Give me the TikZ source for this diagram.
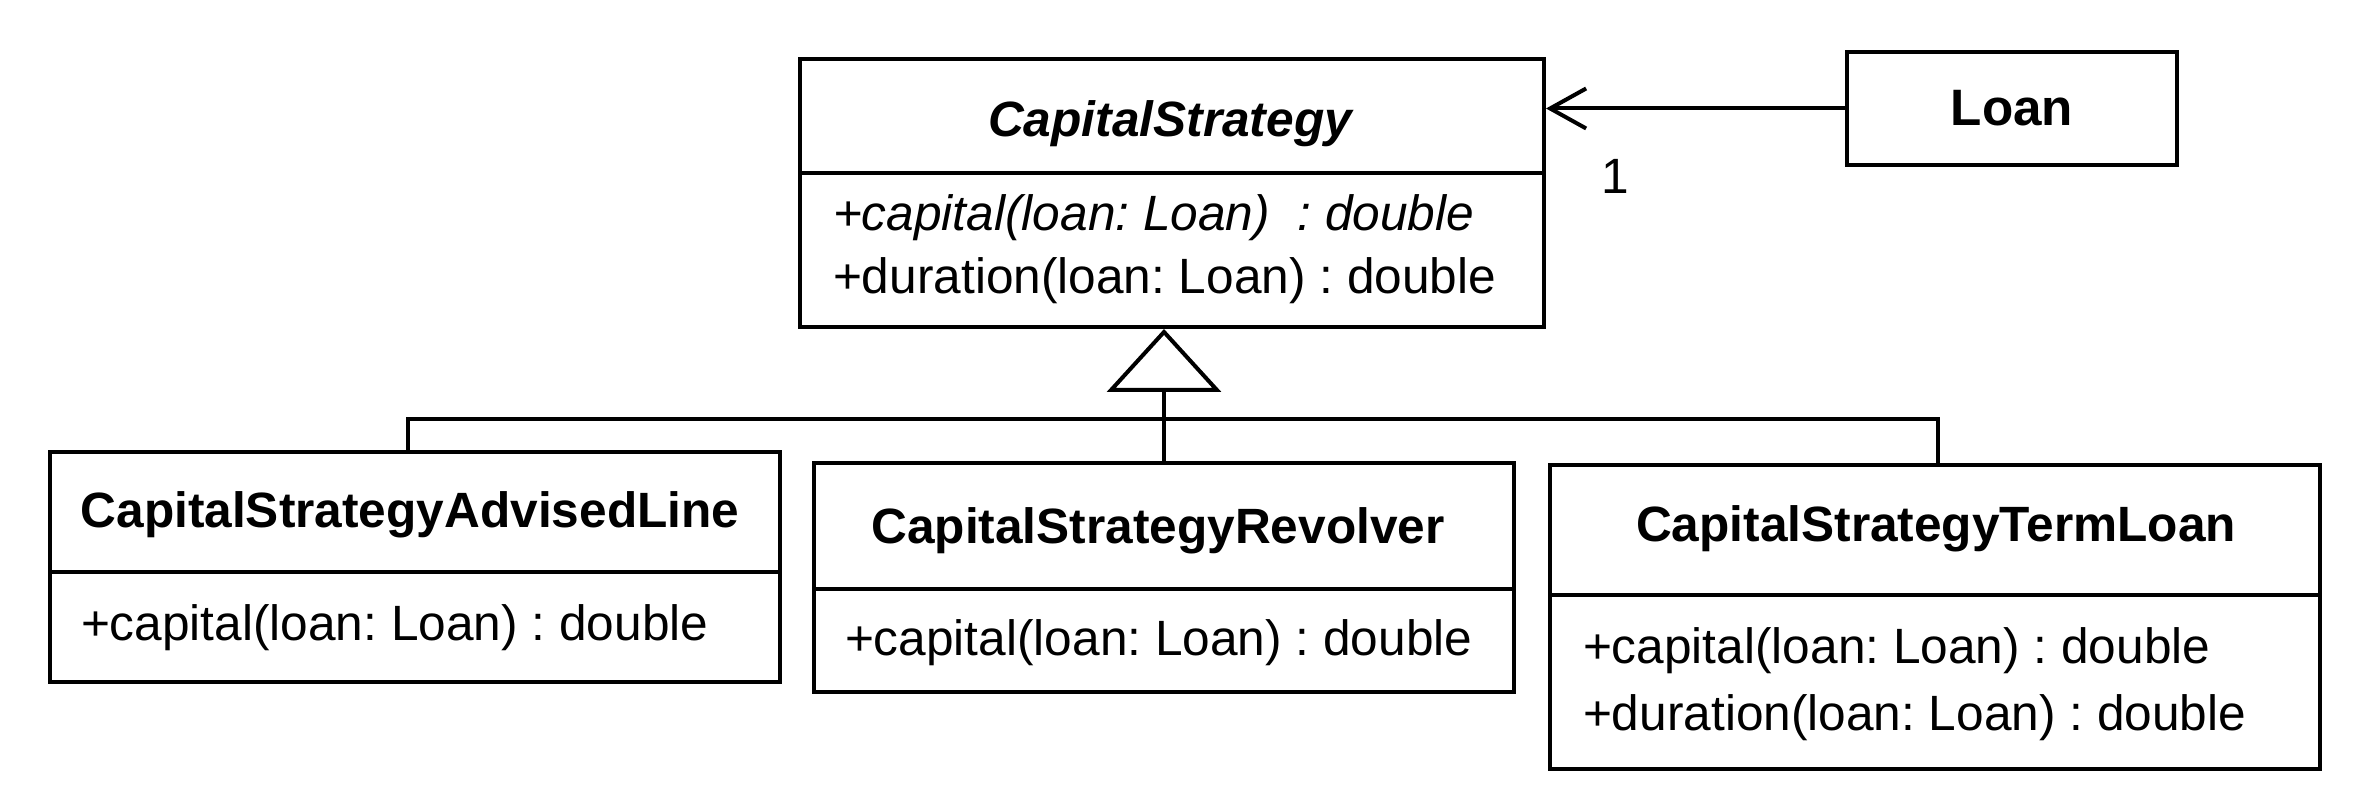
\documentclass[tikz,border=0pt]{standalone}
\usepackage{fontspec}
\setmainfont{Liberation Sans}
\usetikzlibrary{arrows.meta}
\frenchspacing
\begin{document}
\frenchspacing
\begin{tikzpicture}[x=0.25pt,y=-0.25pt,
  line width=1pt,
  classbox/.style={draw, line width=1pt, anchor=north west, inner sep=0pt},
  ctitle/.style={font=\fontsize{12.4}{15}\selectfont\bfseries, inner sep=0pt},
  cop/.style={font=\fontsize{12.4}{15}\selectfont, anchor=west, inner sep=0pt},
  conn/.style={line width=1pt}]
\fill[white] (0,0) rectangle (2376,798);
\useasboundingbox (0,0) rectangle (2376,798);

% abstract class
\node[classbox, minimum width=186pt, minimum height=67pt] (cs) at (798,57) {};
\node[ctitle, font=\fontsize{12.4}{15}\selectfont\bfseries\itshape] (cstitle) at (1170,124) {CapitalStrategy};
\coordinate (csdiv) at (0,173);
\draw (cs.west |- csdiv) -- (cs.east |- csdiv);
\node[cop, font=\fontsize{12.4}{15}\selectfont\itshape] (csop1) at (831,218) {+capital(loan: Loan)\ \ : double};
\node[cop] (csop2) at (831,281) {+duration(loan: Loan) : double};

% Loan
\node[classbox, minimum width=82.5pt, minimum height=28.25pt, font=\fontsize{12.8}{15}\selectfont\bfseries] (loan) at (1845,50) {Loan};
\draw[conn, -{Straight Barb[length=9pt,width=10pt]}] (loan.west) -- (loan.west -| cs.east);
\node[font=\fontsize{12.4}{15}\selectfont, inner sep=0pt] (mult) at (1615,176) {1};

% subclasses
\node[classbox, minimum width=182.5pt, minimum height=57.5pt] (adv) at (48,450) {};
\node[ctitle] (advtitle) at (410,515) {CapitalStrategyAdvisedLine};
\coordinate (advdiv) at (0,572);
\draw (adv.west |- advdiv) -- (adv.east |- advdiv);
\node[cop] (advop1) at (79,628) {+capital(loan: Loan) : double};

\node[classbox, minimum width=175pt, minimum height=57.25pt] (rev) at (812,461) {};
\node[ctitle] (revtitle) at (1158,531) {CapitalStrategyRevolver};
\coordinate (revdiv) at (0,589);
\draw (rev.west |- revdiv) -- (rev.east |- revdiv);
\node[cop] (revop1) at (843,643) {+capital(loan: Loan) : double};

\node[classbox, minimum width=192.5pt, minimum height=76pt] (term) at (1548,463) {};
\node[ctitle] (termtitle) at (1936,529) {CapitalStrategyTermLoan};
\coordinate (termdiv) at (0,595);
\draw (term.west |- termdiv) -- (term.east |- termdiv);
\node[cop] (termop1) at (1581,651) {+capital(loan: Loan) : double};
\node[cop] (termop2) at (1581,718) {+duration(loan: Loan) : double};

% generalization
\draw[conn, -{Triangle[open,length=15.75pt,width=28.5pt]}] (rev.north) -- (rev.north |- cs.south);
\coordinate (bus) at (1162,419);
\draw[conn] ([xshift=-1.75pt]adv.north) |- (bus) -| ([xshift=0.75pt]term.north);
\end{tikzpicture}
\end{document}
